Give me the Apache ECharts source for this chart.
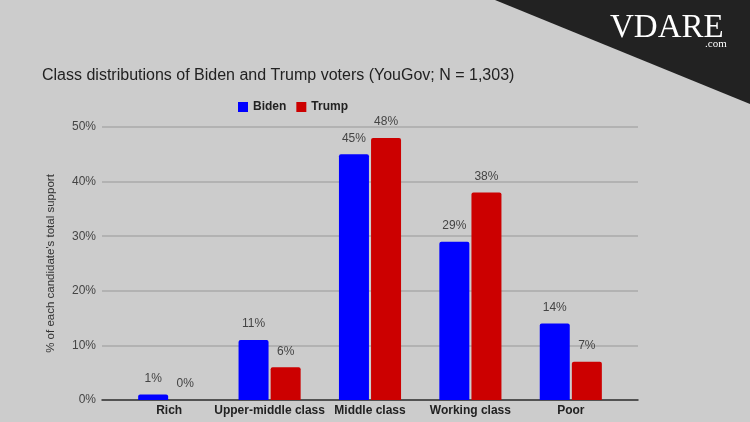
<!DOCTYPE html>
<html>
<head>
<meta charset="utf-8">
<script src="https://cdn.jsdelivr.net/npm/echarts@6/dist/echarts.min.js"></script>
<style>
html,body{margin:0;padding:0;background:#cccccc;}
#c{width:750px;height:422px;}
</style>
</head>
<body>
<div id="c"></div>
<script>
var categories = ['Rich', 'Upper-middle class', 'Middle class', 'Working class', 'Poor'];
var bidenValues = [1, 11, 45, 29, 14];
var trumpValues = [0, 6, 48, 38, 7];
var yTicks = [0, 10, 20, 30, 40, 50];

var chart = echarts.init(document.getElementById('c'));
var font = '"Liberation Sans", Arial, sans-serif';
var labelStyle = {show: true, position: 'top', distance: 10, formatter: '{c}%', fontSize: 12, color: '#444', fontFamily: font};
chart.setOption({
  backgroundColor: '#cccccc',
  animation: false,
  title: {
    text: 'Class distributions of Biden and Trump voters (YouGov; N = 1,303)',
    left: 37, top: 63,
    textStyle: {fontSize: 16, fontWeight: 'normal', color: '#222', fontFamily: font}
  },
  legend: {
    data: ['Biden', 'Trump'],
    left: 233, top: 96,
    icon: 'rect', itemWidth: 10, itemHeight: 10, itemGap: 10,
    textStyle: {fontSize: 12, fontWeight: 'bold', color: '#222', fontFamily: font}
  },
  grid: [
    {left: 102, right: 112, top: 127, bottom: 22},
    {left: 119, right: 129, top: 127, bottom: 22}
  ],
  xAxis: [
    {gridIndex: 0, type: 'value', min: 0, max: 1, axisLabel: {show: false}, axisTick: {show: false}, splitLine: {show: false},
     axisLine: {show: true, lineStyle: {color: '#333', width: 1.5}}},
    {gridIndex: 1, type: 'category', data: categories, axisLine: {show: false}, axisTick: {show: false},
     axisLabel: {interval: 0, margin: 5, fontSize: 12, fontWeight: 'bold', color: '#222', fontFamily: font}}
  ],
  yAxis: [
    {gridIndex: 0, type: 'value', min: yTicks[0], max: yTicks[yTicks.length - 1], interval: 10,
     name: "% of each candidate's total support", nameLocation: 'middle', nameGap: 45,
     nameTextStyle: {fontSize: 11.5, color: '#333', fontFamily: font},
     axisLine: {show: false}, axisTick: {show: false},
     axisLabel: {formatter: '{value}%', fontSize: 12, color: '#444', margin: 6, fontFamily: font},
     splitLine: {lineStyle: {color: '#aaaaaa', width: 1.5}}},
    {gridIndex: 1, type: 'value', min: 0, max: 50, interval: 10, show: false, splitLine: {show: false}}
  ],
  series: [
    {name: 'Biden', type: 'bar', xAxisIndex: 1, yAxisIndex: 1, data: bidenValues, barWidth: 30, barGap: '7%',
     itemStyle: {color: '#0000ff', borderRadius: [2, 2, 0, 0]}, label: labelStyle},
    {name: 'Trump', type: 'bar', xAxisIndex: 1, yAxisIndex: 1, data: trumpValues, barWidth: 30,
     itemStyle: {color: '#cc0000', borderRadius: [2, 2, 0, 0]}, label: labelStyle}
  ],
  graphic: [
    {type: 'polygon', shape: {points: [[495, 0], [750, 0], [750, 104]]}, style: {fill: '#222222'}, z: 100},
    {type: 'text', left: 610, top: 12, z: 101,
     style: {text: 'VDARE', fill: '#ffffff', font: '33px "Liberation Serif", "Times New Roman", serif'}},
    {type: 'text', left: 705, top: 39, z: 101,
     style: {text: '.com', fill: '#ffffff', font: '11px "Liberation Serif", "Times New Roman", serif'}}
  ]
});
</script>
</body>
</html>
